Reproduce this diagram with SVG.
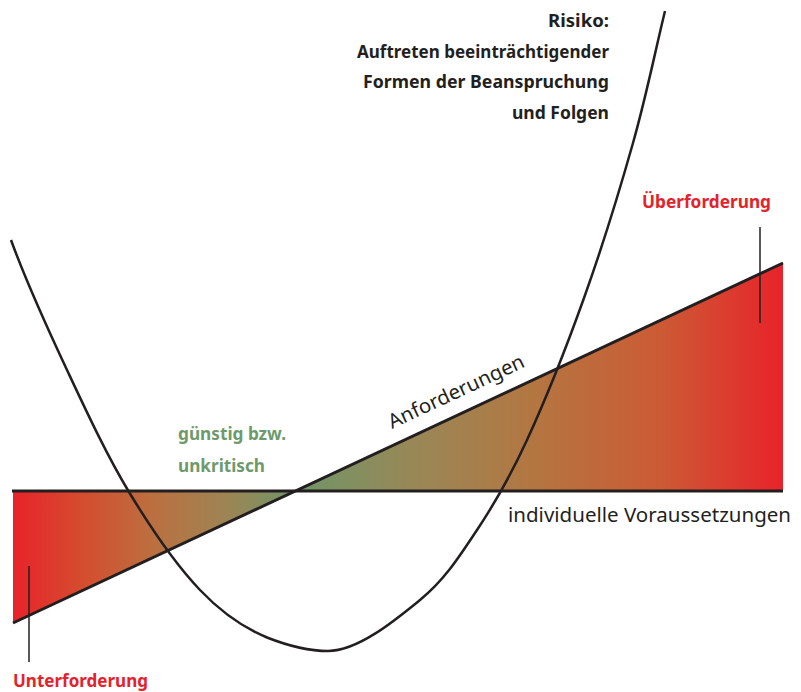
<svg xmlns="http://www.w3.org/2000/svg" width="801" height="692" viewBox="0 0 801 692">
  <defs>
    <linearGradient id="grad" gradientUnits="userSpaceOnUse" x1="13" y1="0" x2="783" y2="0">
      <stop offset="0" stop-color="#e8232a"/>
      <stop offset="0.092" stop-color="#d44d2f"/>
      <stop offset="0.183" stop-color="#bb7040"/>
      <stop offset="0.275" stop-color="#9e8454"/>
      <stop offset="0.366" stop-color="#6f9668"/>
      <stop offset="0.525" stop-color="#9a8756"/>
      <stop offset="0.683" stop-color="#b57540"/>
      <stop offset="0.842" stop-color="#cc5a35"/>
      <stop offset="1" stop-color="#e8232a"/>
    </linearGradient>
  </defs>
  <style>
    .line { stroke: #231f20; stroke-width: 3; fill: none; stroke-linecap: butt; }
    .thin { stroke: #231f20; stroke-width: 1.5; fill: none; }
    .curve { stroke: #231f20; stroke-width: 2.5; fill: none; }
    .bold { font-family: "Noto Sans", "Liberation Sans", sans-serif; font-weight: bold; font-size: 18px; }
    .reg { font-family: "Noto Sans", "Liberation Sans", sans-serif; font-size: 20px; fill: #231f20; }
    .dark { fill: #231f20; }
    .red { fill: #e4222b; }
    .green { fill: #6e9a6b; }
  </style>

  <g id="areas">
    <polygon points="13,491 295,491 13,623" fill="url(#grad)"/>
    <polygon points="295,491 783,491 783,263" fill="url(#grad)"/>
  </g>

  <g id="connectors">
    <line class="line" x1="12" y1="491" x2="783" y2="491"/>
    <line class="line" x1="13" y1="623" x2="783" y2="263"/>
    <line class="thin" x1="760" y1="227" x2="760" y2="323"/>
    <line class="thin" x1="29" y1="566" x2="29" y2="662"/>
    <path class="curve" d="M11,240 C27,284 47.3,328 67,370 C86.7,412 106.8,455.3 129,492 C151.2,528.7 177,565.8 200,590 C223,614.2 244,628 267,637.5 C286,645 306,651 328,651 C358,651 395.2,620.2 420,600 C444.8,579.8 459.2,556.7 477,530 C494.8,503.3 509.2,478.7 527,440 C544.8,401.3 566.3,347.5 584,298 C601.7,248.5 619.5,190.8 633,143 C646.5,95.2 654.3,55 665,11"/>
  </g>

  <g id="risiko">
    <text class="bold dark" x="548" y="27" textLength="61" lengthAdjust="spacingAndGlyphs">Risiko:</text>
    <text class="bold dark" x="357" y="58" textLength="252" lengthAdjust="spacingAndGlyphs">Auftreten beeinträchtigender</text>
    <text class="bold dark" x="363" y="88" textLength="246" lengthAdjust="spacingAndGlyphs">Formen der Beanspruchung</text>
    <text class="bold dark" x="512" y="119" textLength="97" lengthAdjust="spacingAndGlyphs">und Folgen</text>
  </g>

  <g id="ueberforderung">
    <text class="bold red" x="642" y="208" textLength="129" lengthAdjust="spacingAndGlyphs">Überforderung</text>
  </g>

  <g id="unterforderung">
    <text class="bold red" x="13" y="687" textLength="135" lengthAdjust="spacingAndGlyphs">Unterforderung</text>
  </g>

  <g id="guenstig">
    <text class="bold green" x="178" y="440" textLength="108" lengthAdjust="spacingAndGlyphs">günstig bzw.</text>
    <text class="bold green" x="178" y="472" textLength="87" lengthAdjust="spacingAndGlyphs">unkritisch</text>
  </g>

  <g id="anforderungen">
    <text class="reg" transform="translate(392,429) rotate(-25.06)" x="0" y="0" textLength="148" lengthAdjust="spacingAndGlyphs">Anforderungen</text>
  </g>

  <g id="voraussetzungen">
    <text class="reg" x="508" y="522" textLength="283" lengthAdjust="spacingAndGlyphs">individuelle Voraussetzungen</text>
  </g>
</svg>
